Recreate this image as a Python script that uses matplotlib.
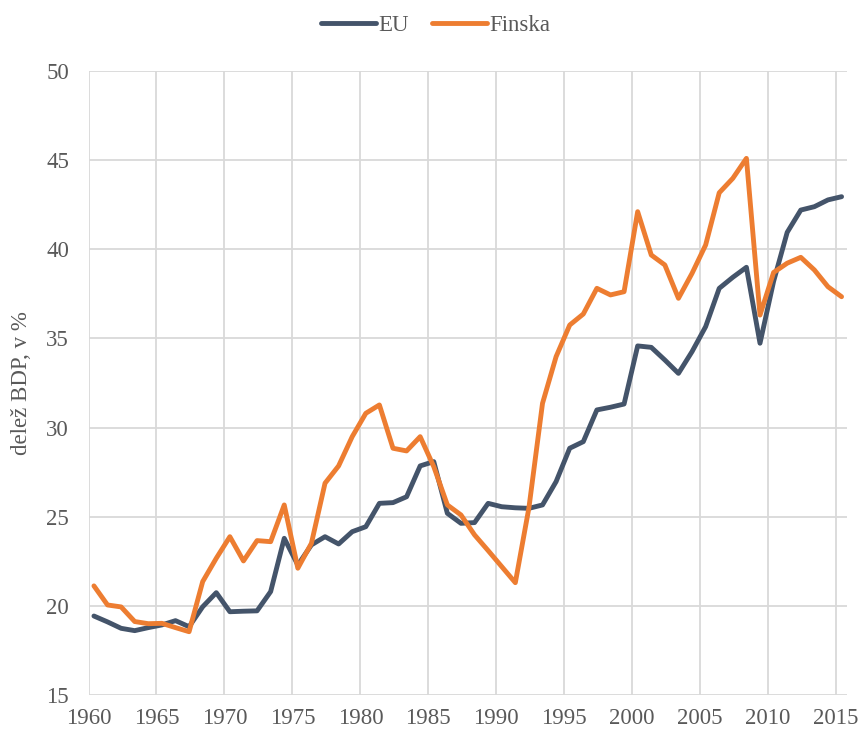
import matplotlib
matplotlib.use("Agg")
import matplotlib.pyplot as plt
import numpy as np

years = list(range(1960, 2016))
eu = [19.43, 19.1, 18.74, 18.61, 18.78, 18.93, 19.17, 18.83, 19.95, 20.74,
      19.67, 19.7, 19.72, 20.8, 23.79, 22.29, 23.42, 23.88, 23.47, 24.16,
      24.44, 25.75, 25.79, 26.12, 27.85, 28.09, 25.19, 24.63, 24.67, 25.75,
      25.56, 25.5, 25.47, 25.66, 26.97, 28.84, 29.21, 30.99, 31.14, 31.32,
      34.58, 34.5, 33.79, 33.04, 34.26, 35.66, 37.81, 38.43, 38.99, 34.73,
      38.2, 40.95, 42.2, 42.39, 42.77, 42.95]
finska = [21.12, 20.05, 19.94, 19.12, 19.0, 19.02, 18.78, 18.55, 21.36, 22.67,
          23.88, 22.52, 23.66, 23.6, 25.66, 22.11, 23.51, 26.88, 27.85, 29.49,
          30.8, 31.27, 28.84, 28.69, 29.49, 27.81, 25.66, 25.1, 23.98, 23.1,
          22.2, 21.3, 25.5, 31.36, 33.98, 35.75, 36.37, 37.81, 37.44, 37.62,
          42.11, 39.68, 39.12, 37.25, 38.65, 40.24, 43.17, 43.98, 45.1, 36.31,
          38.7, 39.22, 39.55, 38.84, 37.9, 37.34]
series_names = ["EU", "Finska"]
colors = ["#44546A", "#ED7D31"]
xticks = list(range(1960, 2016, 5))
yticks = list(range(15, 51, 5))

plt.rcParams['font.family'] = ['Liberation Serif', 'DejaVu Serif']
text_color = "#595959"
fs = 16.5

fig = plt.figure(figsize=(8.63, 7.31), dpi=100)
ax = fig.add_axes([88.5/863, 1-695/731, (847-88.5)/863, (695-71)/731])

xpos = np.array(years) + 0.4
for vals, name, c in zip([eu, finska], series_names, colors):
    ax.plot(xpos, vals, color=c, lw=3.5, label=name,
            solid_joinstyle='round', solid_capstyle='round')

ax.set_xlim(1960, 2015.8)
ax.set_ylim(15, 50)
ax.set_xticks(xticks)
ax.set_yticks(yticks)
ax.grid(True, color="#D9D9D9", lw=1.3)
ax.set_axisbelow(True)
for s in ax.spines.values():
    s.set_visible(False)
ax.tick_params(length=0, labelsize=fs, colors=text_color)
ax.tick_params(axis='x', pad=9)
ax.tick_params(axis='y', pad=14)
ax.set_ylabel("delež BDP, v %", fontsize=fs, color=text_color, labelpad=10)

leg = fig.legend(loc='upper center', bbox_to_anchor=(0.505, 1.008), ncol=2,
                 frameon=False, fontsize=fs, handlelength=2.4,
                 handletextpad=0.1, columnspacing=1.0)
for t in leg.get_texts():
    t.set_color(text_color)

fig.savefig("out.png", dpi=100)
